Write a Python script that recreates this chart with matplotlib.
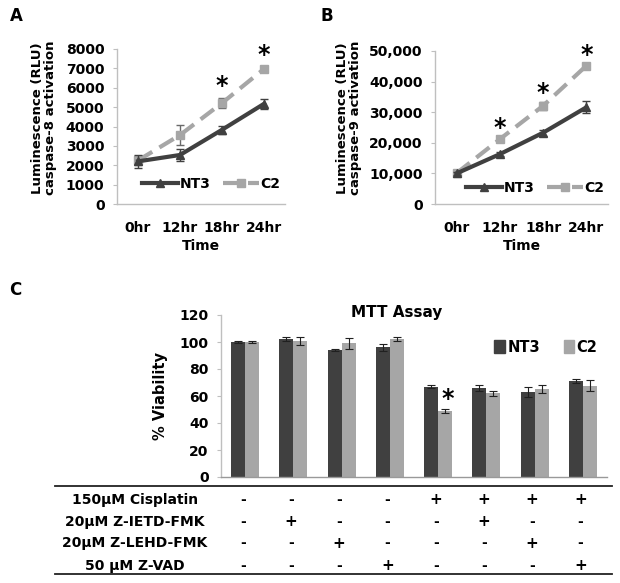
import matplotlib
matplotlib.use("Agg")
import matplotlib.pyplot as plt
import matplotlib.transforms as mtransforms
from matplotlib.lines import Line2D
from matplotlib.patches import Patch
import numpy as np

plt.rcParams['font.family'] = ['DejaVu Sans']
plt.rcParams['font.weight'] = 'bold'

# ---------------- data ----------------
time_labels = ['0hr', '12hr', '18hr', '24hr']
casp8_nt3 = [2200, 2530, 3830, 5170]
casp8_nt3_err = [330, 300, 200, 250]
casp8_c2 = [2250, 3560, 5210, 6970]
casp8_c2_err = [250, 520, 280, 100]
casp8_star = [False, False, True, True]

casp9_nt3 = [10000, 16300, 23300, 31600]
casp9_nt3_err = [500, 700, 1000, 2000]
casp9_c2 = [10100, 21200, 32100, 45200]
casp9_c2_err = [500, 500, 1300, 600]
casp9_star = [False, True, True, True]

mtt_nt3 = [100, 102, 94, 96, 67, 66, 63, 71]
mtt_nt3_err = [1, 1.5, 1, 2.5, 1, 2, 4, 1.5]
mtt_c2 = [100, 100.5, 99, 102, 49, 62, 65, 67.5]
mtt_c2_err = [1, 3, 4, 1.5, 1.5, 2, 3, 4]
mtt_star = [False, False, False, False, True, False, False, False]

treat_rows = ['150µM Cisplatin', '20µM Z-IETD-FMK', '20µM Z-LEHD-FMK', '50 µM Z-VAD']
treat_table = [
    ['-', '-', '-', '-', '+', '+', '+', '+'],
    ['-', '+', '-', '-', '-', '+', '-', '-'],
    ['-', '-', '+', '-', '-', '-', '+', '-'],
    ['-', '-', '-', '+', '-', '-', '-', '+'],
]

DARK = '#404040'
LIGHT = '#A6A6A6'
SPINE = '#BFBFBF'

W, H = 620, 583
fig = plt.figure(figsize=(W / 100, H / 100), dpi=100)


def fx(px):
    return px / W


def fy(py):
    return 1 - py / H


def style_axes(ax):
    for s in ['top', 'right']:
        ax.spines[s].set_visible(False)
    for s in ['left', 'bottom']:
        ax.spines[s].set_color(SPINE)
        ax.spines[s].set_linewidth(1.0)
    ax.tick_params(axis='y', length=3, color=SPINE, pad=6, labelsize=10)
    ax.tick_params(axis='x', length=0, pad=12, labelsize=10)
    for lab in ax.get_xticklabels() + ax.get_yticklabels():
        lab.set_fontweight('bold')


def line_panel(rect, nt3, nt3e, c2, c2e, stars, ymax, ystep, fmt, ylab, star_off,
               leg_pos, ylab_pos):
    ax = fig.add_axes(rect)
    x = np.arange(len(time_labels))
    ax.errorbar(x, nt3, yerr=nt3e, color=DARK, lw=3, marker='^', ms=6,
                ecolor=DARK, elinewidth=1, capsize=3, label='NT3', zorder=3)
    ax.errorbar(x, c2, yerr=c2e, color=LIGHT, lw=3, ls=(0, (4, 2)), marker='s', ms=6,
                ecolor='#6a6a6a', elinewidth=1, capsize=3, label='C2', zorder=2)
    for xi, v, e, s in zip(x, c2, c2e, stars):
        if s:
            ax.text(xi, v + e + star_off, '*', ha='center', va='center',
                    fontsize=17, fontweight='bold', color='black')
    ax.set_xlim(-0.5, len(x) - 0.5)
    ax.set_ylim(0, ymax)
    ax.set_yticks(np.arange(0, ymax + 1, ystep))
    ax.set_yticklabels([fmt(v) for v in np.arange(0, ymax + 1, ystep)])
    ax.set_xticks(x)
    ax.set_xticklabels(time_labels)
    ax.set_xlabel('Time', fontsize=10, fontweight='bold', labelpad=3)
    fig.text(fx(ylab_pos[0]), fy(ylab_pos[1]), ylab, rotation=90, ha='center',
             va='center', fontsize=9.5, fontweight='bold', linespacing=1.0,
             multialignment='center')
    style_axes(ax)
    handles = [Line2D([], [], color=DARK, lw=3, marker='^', ms=6),
               Line2D([], [], color=LIGHT, lw=3, ls=(0, (4, 2)), marker='s', ms=6)]
    ax.legend(handles, ['NT3', 'C2'], ncol=2, frameon=False, loc='center',
              bbox_to_anchor=leg_pos, bbox_transform=fig.transFigure,
              handlelength=2.6, columnspacing=0.9, handletextpad=0.1,
              prop={'weight': 'bold', 'size': 10})
    return ax


axA = line_panel([fx(117), fy(204), fx(285) - fx(117), fy(49) - fy(204)],
                 casp8_nt3, casp8_nt3_err, casp8_c2, casp8_c2_err, casp8_star,
                 8000, 1000, lambda v: f'{int(v)}',
                 'Luminescence (RLU)\ncaspase-8 activation', 600,
                 (fx(211), fy(184)), (44, 118))
axB = line_panel([fx(435), fy(204), fx(608) - fx(435), fy(51) - fy(204)],
                 casp9_nt3, casp9_nt3_err, casp9_c2, casp9_c2_err, casp9_star,
                 50000, 10000, lambda v: f'{int(v):,}',
                 'Luminescence (RLU)\ncaspase-9 activation', 3000,
                 (fx(535), fy(188)), (349, 118))

# ---------------- panel C ----------------
axC = fig.add_axes([fx(221), fy(477), fx(607) - fx(221), fy(315) - fy(477)])
xg = np.arange(len(mtt_nt3))
bw = 0.29
axC.bar(xg - bw / 2, mtt_nt3, bw, color=DARK, yerr=mtt_nt3_err,
        error_kw=dict(ecolor='#202020', elinewidth=0.8, capsize=3, capthick=0.8))
axC.bar(xg + bw / 2, mtt_c2, bw, color=LIGHT, yerr=mtt_c2_err,
        error_kw=dict(ecolor='#202020', elinewidth=0.8, capsize=3, capthick=0.8))
for xi, v, e, s in zip(xg, mtt_c2, mtt_c2_err, mtt_star):
    if s:
        axC.text(xi + bw / 2 + 0.05, v + e + 7, '*', ha='center', va='center',
                 fontsize=17, fontweight='bold')
axC.set_xlim(-0.5, len(xg) - 0.5)
axC.set_ylim(0, 120)
axC.set_yticks(np.arange(0, 121, 20))
axC.set_xticks([])
axC.set_ylabel('% Viability', fontsize=10.5, fontweight='bold', labelpad=8)
style_axes(axC)
axC.spines['bottom'].set_color('#999999')
fig.text(fx(397), fy(313), 'MTT Assay', ha='center', va='center',
         fontsize=11, fontweight='bold')
axC.legend([Patch(color=DARK), Patch(color=LIGHT)], ['NT3', 'C2'], ncol=2,
           frameon=False, loc='center', bbox_to_anchor=(fx(546), fy(347)),
           bbox_transform=fig.transFigure, handlelength=0.7, handleheight=0.9,
           handletextpad=0.2, columnspacing=1.6,
           prop={'weight': 'bold', 'size': 10.5})

# table below panel C
blend = mtransforms.blended_transform_factory(axC.transData, fig.transFigure)
row_y = [fy(500), fy(522), fy(543), fy(566)]
for r, (name, ry) in enumerate(zip(treat_rows, row_y)):
    fig.text(fx(135), ry, name, ha='center', va='center', fontsize=10,
             fontweight='bold')
    for c, sym in enumerate(treat_table[r]):
        axC.text(xg[c] - 0.05, ry, sym, transform=blend, ha='center', va='center',
                 fontsize=11 if sym == '+' else 10, fontweight='bold')
for ly in [fy(486), fy(574)]:
    fig.add_artist(Line2D([fx(55), fx(612)], [ly, ly], color='#222222', lw=1.3,
                          transform=fig.transFigure))

# panel letters
fig.text(fx(10), fy(16), 'A', fontsize=12, fontweight='bold', va='center')
fig.text(fx(320), fy(16), 'B', fontsize=12, fontweight='bold', va='center')
fig.text(fx(9), fy(290), 'C', fontsize=12, fontweight='bold', va='center')

fig.savefig('out.png', dpi=100)
